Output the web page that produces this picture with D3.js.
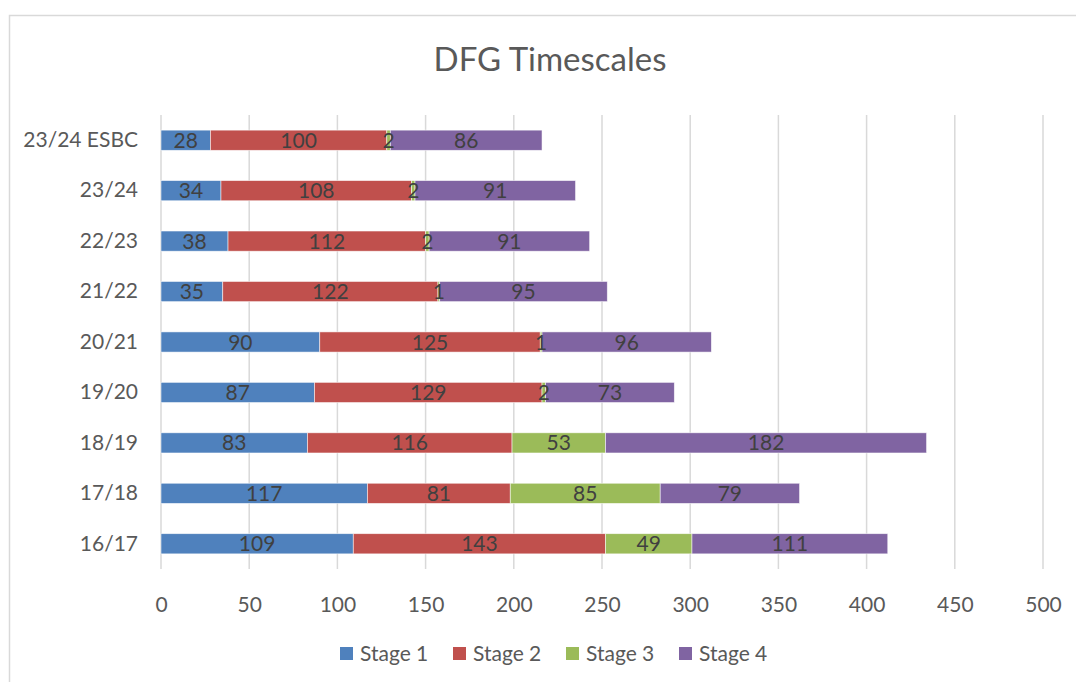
<!DOCTYPE html>
<html>
<head>
<meta charset="utf-8">
<script src="https://cdn.jsdelivr.net/npm/d3@7"></script>
<style>
  html, body { margin: 0; padding: 0; background: #fff; }
  svg { display: block; font-family: "Lato", "Open Sans", sans-serif; }
</style>
</head>
<body>
<svg id="chart" width="1076" height="682"></svg>
<script>
// Categories, top to bottom
const categories = ["23/24 ESBC", "23/24", "22/23", "21/22", "20/21", "19/20", "18/19", "17/18", "16/17"];
const seriesNames = ["Stage 1", "Stage 2", "Stage 3", "Stage 4"];
const stage1 = [28, 34, 38, 35, 90, 87, 83, 117, 109];
const stage2 = [100, 108, 112, 122, 125, 129, 116, 81, 143];
const stage3 = [2, 2, 2, 1, 1, 2, 53, 85, 49];
const stage4 = [86, 91, 91, 95, 96, 73, 182, 79, 111];
const xTicks = [0, 50, 100, 150, 200, 250, 300, 350, 400, 450, 500];
const colors = ["#4F81BD", "#C0504D", "#9BBB59", "#8064A2"];

const rows = categories.map((c, i) => ({
  cat: c, "Stage 1": stage1[i], "Stage 2": stage2[i], "Stage 3": stage3[i], "Stage 4": stage4[i]
}));

const svg = d3.select("#chart");
const W = 1076, H = 682;
const FS = 21;

// chart area frame
svg.append("rect")
  .attr("x", 9.5).attr("y", 15.5)
  .attr("width", W + 20).attr("height", H + 20)
  .attr("fill", "#fff").attr("stroke", "#d9d9d9").attr("stroke-width", 1.5);

// title
svg.append("text")
  .attr("x", 550).attr("y", 71)
  .attr("text-anchor", "middle")
  .attr("font-size", 33).attr("fill", "#595959")
  .text("DFG Timescales");

const plot = { left: 161, right: 1043, top: 115, bottom: 569 };

const x = d3.scaleLinear().domain([0, 500]).range([plot.left, plot.right]);
const y = d3.scaleBand().domain(categories).range([plot.top, plot.bottom]).paddingInner(0.6).paddingOuter(0.3);

// vertical gridlines
svg.append("g").selectAll("line").data(xTicks).join("line")
  .attr("x1", d => x(d)).attr("x2", d => x(d))
  .attr("y1", plot.top).attr("y2", plot.bottom)
  .attr("stroke", "#d9d9d9").attr("stroke-width", 1.5);

// x axis tick labels
const xAxis = d3.axisBottom(x).tickValues(xTicks).tickSize(0).tickPadding(0);
const gx = svg.append("g").attr("transform", `translate(0,${plot.bottom + 43})`).call(xAxis);
gx.select(".domain").remove();
gx.selectAll("text").attr("font-size", FS).attr("fill", "#595959")
  .attr("font-family", "Lato, 'Open Sans', sans-serif").attr("dy", 0);

// y axis category labels
const yAxis = d3.axisLeft(y).tickSize(0).tickPadding(0);
const gy = svg.append("g").attr("transform", `translate(${plot.left - 23},0)`).call(yAxis);
gy.select(".domain").remove();
gy.selectAll("text").attr("font-size", FS).attr("fill", "#595959")
  .attr("font-family", "Lato, 'Open Sans', sans-serif");

// stacked bars
const stacked = d3.stack().keys(seriesNames)(rows);

const layers = svg.append("g").selectAll("g").data(stacked).join("g")
  .attr("fill", (d, i) => colors[i]);

layers.selectAll("rect").data(d => d).join("rect")
  .attr("x", d => x(d[0]))
  .attr("y", d => y(d.data.cat))
  .attr("width", d => x(d[1]) - x(d[0]))
  .attr("height", y.bandwidth())
  .attr("stroke", "#fff").attr("stroke-width", 0.75).attr("stroke-opacity", 0.7);

// value labels
const labels = svg.append("g");
stacked.forEach(layer => {
  labels.selectAll(null).data(layer).join("text")
    .attr("x", d => (x(d[0]) + x(d[1])) / 2)
    .attr("y", d => y(d.data.cat) + y.bandwidth() / 2)
    .attr("dy", "0.36em")
    .attr("text-anchor", "middle")
    .attr("font-size", FS).attr("fill", "#404040")
    .text(d => d[1] - d[0]);
});

// legend
const legend = svg.append("g").attr("transform", "translate(0,653)");
const legendX = [340, 453, 566, 679];
seriesNames.forEach((name, i) => {
  const g = legend.append("g").attr("transform", `translate(${legendX[i]},0)`);
  g.append("rect").attr("x", 0).attr("y", -6).attr("width", 13).attr("height", 13).attr("fill", colors[i]);
  g.append("text").attr("x", 20).attr("y", 0).attr("dy", "0.36em")
    .attr("font-size", FS).attr("fill", "#595959").text(name);
});
</script>
</body>
</html>
